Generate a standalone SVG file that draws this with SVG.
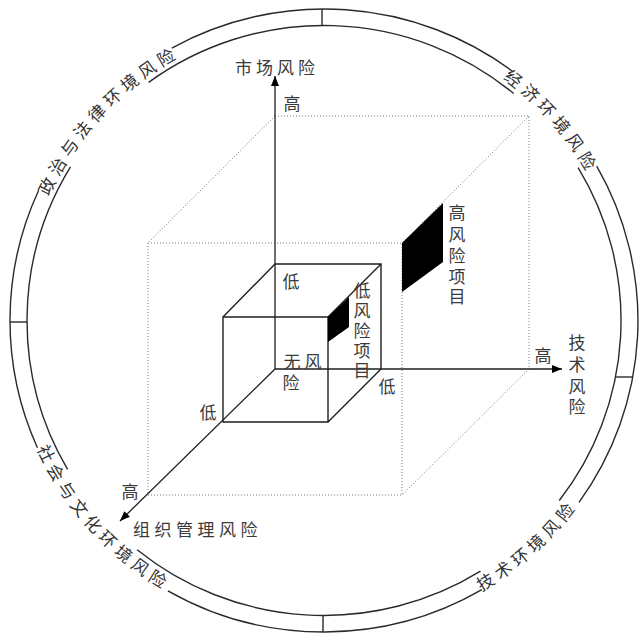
<svg xmlns="http://www.w3.org/2000/svg" width="640" height="634" viewBox="0 0 640 634">
<defs>
<style>
.ring{fill:none;stroke:#2a2a2a;stroke-width:1.4}
.dot{fill:none;stroke:#7a7a7a;stroke-width:1;stroke-dasharray:1 2}
.solid{fill:none;stroke:#1e1e1e;stroke-width:1.4}
.axis{fill:none;stroke:#1e1e1e;stroke-width:1.3}
.lbl{font-family:"Noto Sans CJK SC","Noto Sans CJK JP",sans-serif;font-size:17px;fill:#3a3a3a}
.arc{font-family:"Noto Sans CJK SC","Noto Sans CJK JP",sans-serif;font-size:17px;fill:#333;letter-spacing:4.7px}
.blk{fill:#000}
</style>
<marker id="arr" viewBox="0 0 10 8" markerWidth="10" markerHeight="8" refX="10" refY="4" orient="auto" markerUnits="userSpaceOnUse">
<path d="M0,0 L10,4 L0,8 z" fill="#000"/>
</marker>
<path id="tp1" d="M36.8,227.8 A302,300 0 0 1 210.9,42.3"/>
<path id="tp2" d="M445.4,45.8 A302,300 0 0 1 613.9,236.3"/>
<path id="tp3" d="M415.6,620 A315,313 0 0 0 613.7,443.3"/>
<path id="tp4" d="M22.8,412 A315,313 0 0 0 200.9,608.6"/>
</defs>
<rect width="640" height="634" fill="#fff"/>

<g id="ring">
<path class="ring" d="M171.8,48.1 A314,311.5 0 0 1 513.4,72.0"/>
<path class="ring" d="M596.7,166.2 A314,311.5 0 0 1 579.0,502.3"/>
<path class="ring" d="M481.9,589.7 A314,311.5 0 0 1 167.9,590.8"/>
<path class="ring" d="M37.4,447.7 A314,311.5 0 0 1 38.7,190.3"/>
<path class="ring" d="M148.6,82.4 A297,295 0 0 1 513.7,93.5"/>
<path class="ring" d="M578.1,167.7 A297,295 0 0 1 559.3,500.5"/>
<path class="ring" d="M480.5,571.2 A297,295 0 0 1 137.1,549.7"/>
<path class="ring" d="M67.6,469.3 A297,295 0 0 1 70.5,166.8"/>
<line class="ring" x1="322" y1="9" x2="322" y2="25.5"/>
<line class="ring" x1="615.5" y1="377" x2="632.8" y2="377"/>
<line class="ring" x1="323" y1="615.5" x2="323" y2="632"/>
<line class="ring" x1="10" y1="322" x2="27" y2="322"/>
</g>

<g id="ring-labels">
<text class="arc"><textPath href="#tp1" startOffset="50%" text-anchor="middle">政治与法律环境风险</textPath></text>
<text class="arc"><textPath href="#tp2" startOffset="50%" text-anchor="middle">经济环境风险</textPath></text>
<text class="arc"><textPath href="#tp3" startOffset="50%" text-anchor="middle">技术环境风险</textPath></text>
<text class="arc"><textPath href="#tp4" startOffset="50%" text-anchor="middle">社会与文化环境风险</textPath></text>
</g>

<g id="high-cube">
<path class="dot" d="M275,116 H529 V369 M148,243 H402 V495 H148 Z M275,116 L148,243 M529,116 L402,243 M529,369 L402,495"/>
</g>

<g id="low-cube">
<path class="solid" d="M275,264 H381 V369 M223,317 H328 V422 H223 Z M275,264 L223,317 M381,264 L328,317 M381,369 L328,422"/>
</g>

<g id="connectors">
<line class="axis" x1="275" y1="369" x2="275" y2="76" marker-end="url(#arr)"/>
<line class="axis" x1="275" y1="369" x2="562" y2="369" marker-end="url(#arr)"/>
<line class="axis" x1="275" y1="369" x2="120" y2="521" marker-end="url(#arr)"/>
</g>

<g id="high-risk-project">
<polygon class="blk" points="402,243 443,203 443,262 402,292"/>
<text class="lbl" text-anchor="middle"><tspan x="457" y="218.5">高</tspan><tspan x="457" y="240.5">风</tspan><tspan x="457" y="261.5">险</tspan><tspan x="457" y="282.5">项</tspan><tspan x="457" y="302.5">目</tspan></text>
</g>

<g id="low-risk-project">
<polygon class="blk" points="328,317 349,297 349,327 328,342"/>
<text class="lbl" text-anchor="middle"><tspan x="362" y="296.5">低</tspan><tspan x="362" y="316.5">风</tspan><tspan x="362" y="336.5">险</tspan><tspan x="362" y="356.5">项</tspan><tspan x="362" y="376.5">目</tspan></text>
</g>

<g id="no-risk">
<text class="lbl" text-anchor="middle"><tspan x="292" y="367.5">无</tspan><tspan x="313" y="367.5">风</tspan><tspan x="291" y="388.5">险</tspan></text>
</g>

<g id="market-axis-label">
<text class="lbl" x="235" y="73.5" letter-spacing="4">市场风险</text>
<text class="lbl" x="292" y="109.5" text-anchor="middle">高</text>
<text class="lbl" x="291" y="287.5" text-anchor="middle">低</text>
</g>

<g id="tech-axis-label">
<text class="lbl" x="543" y="361.5" text-anchor="middle">高</text>
<text class="lbl" x="387" y="392.5" text-anchor="middle">低</text>
<text class="lbl" text-anchor="middle"><tspan x="577" y="348.5">技</tspan><tspan x="577" y="370.5">术</tspan><tspan x="577" y="392.5">风</tspan><tspan x="577" y="412.5">险</tspan></text>
</g>

<g id="org-axis-label">
<text class="lbl" x="208" y="418.5" text-anchor="middle">低</text>
<text class="lbl" x="130" y="497.5" text-anchor="middle">高</text>
<text class="lbl" x="133" y="536" letter-spacing="4.5">组织管理风险</text>
</g>
</svg>
